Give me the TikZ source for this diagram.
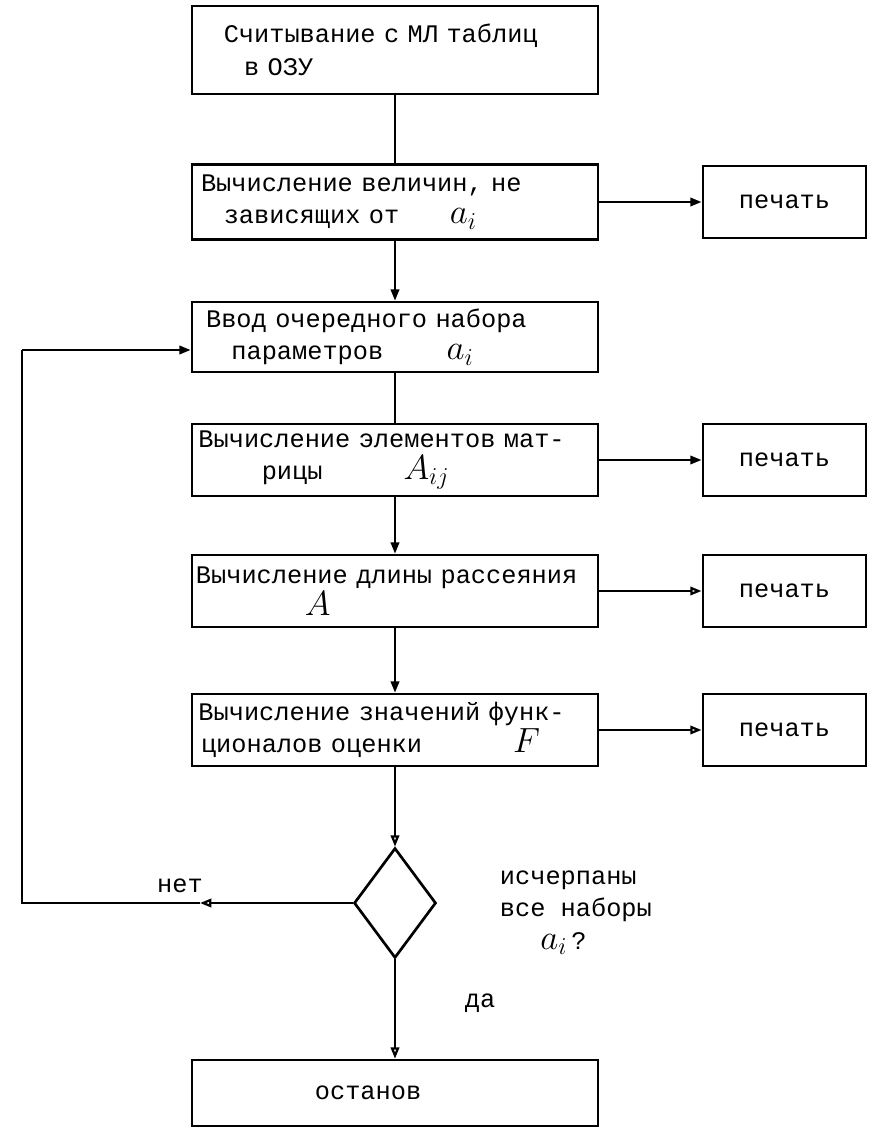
\documentclass[tikz,border=0pt]{standalone}
\usepackage{fontspec}
\setmainfont{Liberation Mono}
\usetikzlibrary{arrows.meta,shapes.geometric,positioning}

\newcommand{\hwr}[1]{{\fontsize{26}{23}\selectfont$#1$}}

\begin{document}
\begin{tikzpicture}[x=0.025cm,y=-0.025cm,
  every node/.style={font=\fontsize{18}{23}\selectfont},
  blk/.style={rectangle,draw,line width=1.9pt,minimum width=10.15cm,minimum height=1.8cm,text width=9.95cm,align=left,inner xsep=0.1cm},
  prn/.style={rectangle,draw,line width=1.9pt,minimum width=4.08cm,minimum height=1.8cm},
  dec/.style={diamond,draw,line width=1.9pt,minimum width=2.05cm,minimum height=2.75cm,inner sep=0pt},
  ln/.style={line width=1.6pt},
  fl/.style={line width=1.6pt,-{Triangle[length=8pt,width=6pt]}},
  flo/.style={line width=1.6pt,-{Triangle[open,length=8pt,width=6pt]}}]
\useasboundingbox (0,0) rectangle (876,1128);

% main column
\node[blk,minimum height=2.2cm] (read) at (395,50) {\hspace*{1.1em}Считывание с МЛ таблиц\\\hspace*{1.9em}в ОЗУ};
\node[blk,minimum height=1.875cm] (const) at (395,202) {\hspace*{0.2em}Вычисление величин, не\\\hspace*{1.1em}зависящих от\hspace{2em}\hwr{a_i}};
\node[blk,minimum height=1.75cm] (input) at (395,337) {\hspace*{0.4em}Ввод очередного набора\\\hspace*{1.4em}параметров\hspace{2.5em}\hwr{a_i}};
\node[blk] (matr) at (395,460) {\hspace*{0.1em}Вычисление элементов мат-\\\hspace*{2.6em}рицы\hspace{3.2em}\hwr{A_{ij}}};
\node[blk] (scat) at (395,591) {Вычисление длины рассеяния\\\hspace*{4.3em}\hwr{A}};
\node[blk] (func) at (395,730) {\hspace*{0.1em}Вычисление значений функ-\\\hspace*{0.2em}ционалов оценки\hspace{3.6em}\hwr{F}};
\node[dec] (test) at (395,903) {};
\node[blk,minimum height=1.65cm] (stop) at (395,1093) {\hspace*{4.7em}останов};

% print boxes
\node[prn] (p1) at (784.5,202) {печать};
\node[prn] (p2) at (784.5,460) {печать};
\node[prn] (p3) at (784.5,591) {печать};
\node[prn] (p4) at (784.5,730) {печать};

% labels
\node (no) at (180,886) {нет};
\node (yes) at (480,1003) {да};
\node[align=left,anchor=north west] (ask) at (495,866) {исчерпаны\\все наборы\\\hspace*{1.6em}\hwr{a_i}\,?};

% loop corners
\coordinate (lm) at (200,903);
\coordinate (lb) at (22,903);
\coordinate (lt) at (22,350);

\draw[ln] (read) -- (const);
\draw[fl] (const) -- (input);
\draw[ln] (input) -- (matr);
\draw[fl] (matr) -- (scat);
\draw[fl] (scat) -- (func);
\draw[flo] (func) -- (test);
\draw[flo] (test) -- (stop);

\draw[fl] (const) -- (p1);
\draw[fl] (matr) -- (p2);
\draw[flo] (scat) -- (p3);
\draw[flo] (func) -- (p4);

\draw[flo] (test.west) -- (lm);
\draw[ln] (lm) -- (lb) -- (lt);
\draw[fl] (lt) -- (lt -| input.west);

\end{tikzpicture}
\end{document}
